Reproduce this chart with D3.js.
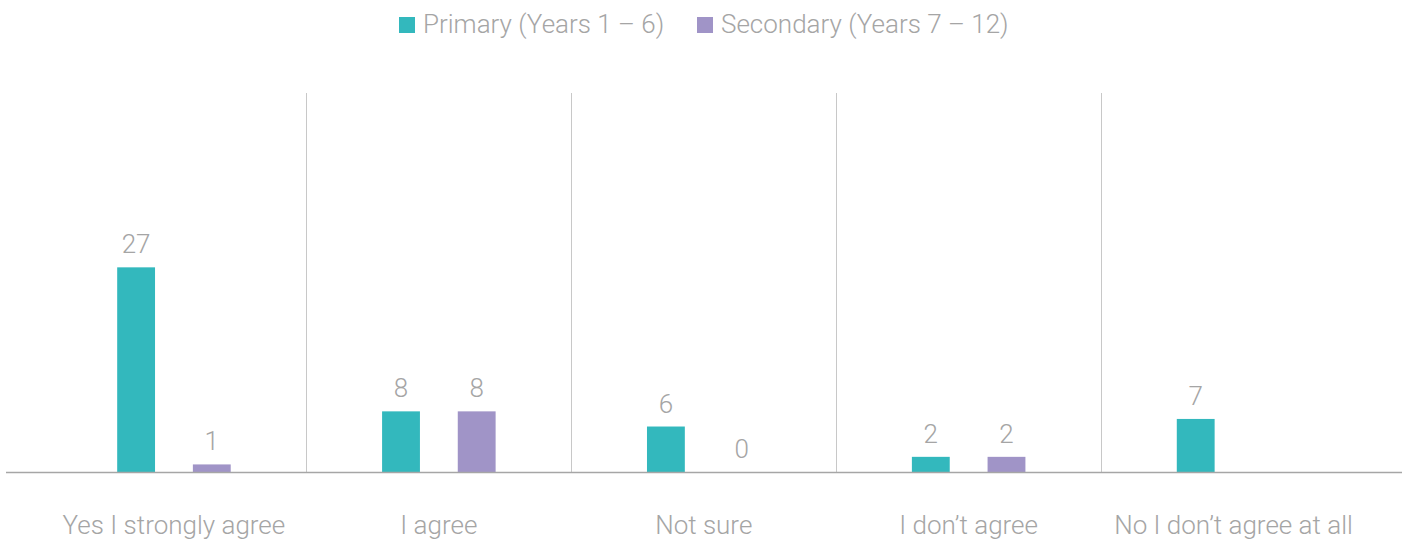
<!DOCTYPE html>
<html>
<head>
<meta charset="utf-8">
<script src="https://cdn.jsdelivr.net/npm/d3@7.9.0/dist/d3.min.js"></script>
<style>
  html, body { margin: 0; padding: 0; background: #fff; }
  svg text { font-family: Roboto, "Noto Sans", sans-serif; font-weight: 300; fill: #a5a5a5; }
</style>
</head>
<body>
<div id="chart"></div>
<script>
// chart data
const categories = ['Yes I strongly agree', 'I agree', 'Not sure', 'I don\u2019t agree', 'No I don\u2019t agree at all'];
const seriesNames = ['Primary (Years 1 \u2013 6)', 'Secondary (Years 7 \u2013 12)'];
const primary = [27, 8, 6, 2, 7];
const secondary = [1, 8, 0, 2, null];
const colors = ['#33b8bd', '#a094c7'];

const width = 1407;
const height = 543;
const plot = { left: 41.5, right: 1366, top: 93, bottom: 472 };

const svg = d3.select('#chart')
  .append('svg')
  .attr('width', width)
  .attr('height', height);

const x0 = d3.scaleBand()
  .domain(categories)
  .range([plot.left, plot.right]);

const x1 = d3.scaleBand()
  .domain(seriesNames)
  .range([0, x0.bandwidth()])
  .paddingInner(0.5)
  .paddingOuter(1);

const y = d3.scaleLinear()
  .domain([0, 50])
  .range([plot.bottom, plot.top]);

const color = d3.scaleOrdinal().domain(seriesNames).range(colors);

// vertical separators between categories
svg.append('g')
  .selectAll('line')
  .data(categories.slice(1))
  .join('line')
    .attr('x1', d => Math.round(x0(d)) + 0.5)
    .attr('x2', d => Math.round(x0(d)) + 0.5)
    .attr('y1', plot.top)
    .attr('y2', plot.bottom)
    .attr('stroke', '#c8c8c8')
    .attr('stroke-width', 1);

// rows: one per category
const rows = categories.map((c, i) => ({
  category: c,
  values: [
    { key: seriesNames[0], value: primary[i] },
    { key: seriesNames[1], value: secondary[i] },
  ].filter(d => d.value !== null)
}));

const groups = svg.append('g')
  .selectAll('g')
  .data(rows)
  .join('g')
    .attr('transform', d => `translate(${x0(d.category)},0)`);

groups.selectAll('rect')
  .data(d => d.values)
  .join('rect')
    .attr('x', d => x1(d.key))
    .attr('y', d => y(d.value))
    .attr('width', x1.bandwidth())
    .attr('height', d => y(0) - y(d.value))
    .attr('fill', d => color(d.key));

groups.selectAll('text.val')
  .data(d => d.values)
  .join('text')
    .attr('class', 'val')
    .attr('x', d => x1(d.key) + x1.bandwidth() / 2)
    .attr('y', d => y(d.value) - 14)
    .attr('text-anchor', 'middle')
    .style('font-size', '26px')
    .text(d => d.value);

// baseline
svg.append('line')
  .attr('x1', 6)
  .attr('x2', 1402)
  .attr('y1', plot.bottom + 0.5)
  .attr('y2', plot.bottom + 0.5)
  .attr('stroke', '#a6a6a6')
  .attr('stroke-width', 1.5);

// category labels
svg.append('g')
  .selectAll('text')
  .data(categories)
  .join('text')
    .attr('x', d => x0(d) + x0.bandwidth() / 2)
    .attr('y', 534)
    .attr('text-anchor', 'middle')
    .style('font-size', '26px')
    .text(d => d);

// legend
const legendX = [399, 697];
const legend = svg.append('g')
  .selectAll('g')
  .data(seriesNames)
  .join('g')
    .attr('transform', (d, i) => `translate(${legendX[i]},17)`);

legend.append('rect')
  .attr('width', 16)
  .attr('height', 16)
  .attr('fill', d => color(d));

legend.append('text')
  .attr('x', 24)
  .attr('y', 16)
  .style('font-size', '26px')
  .text(d => d);
</script>
</body>
</html>
